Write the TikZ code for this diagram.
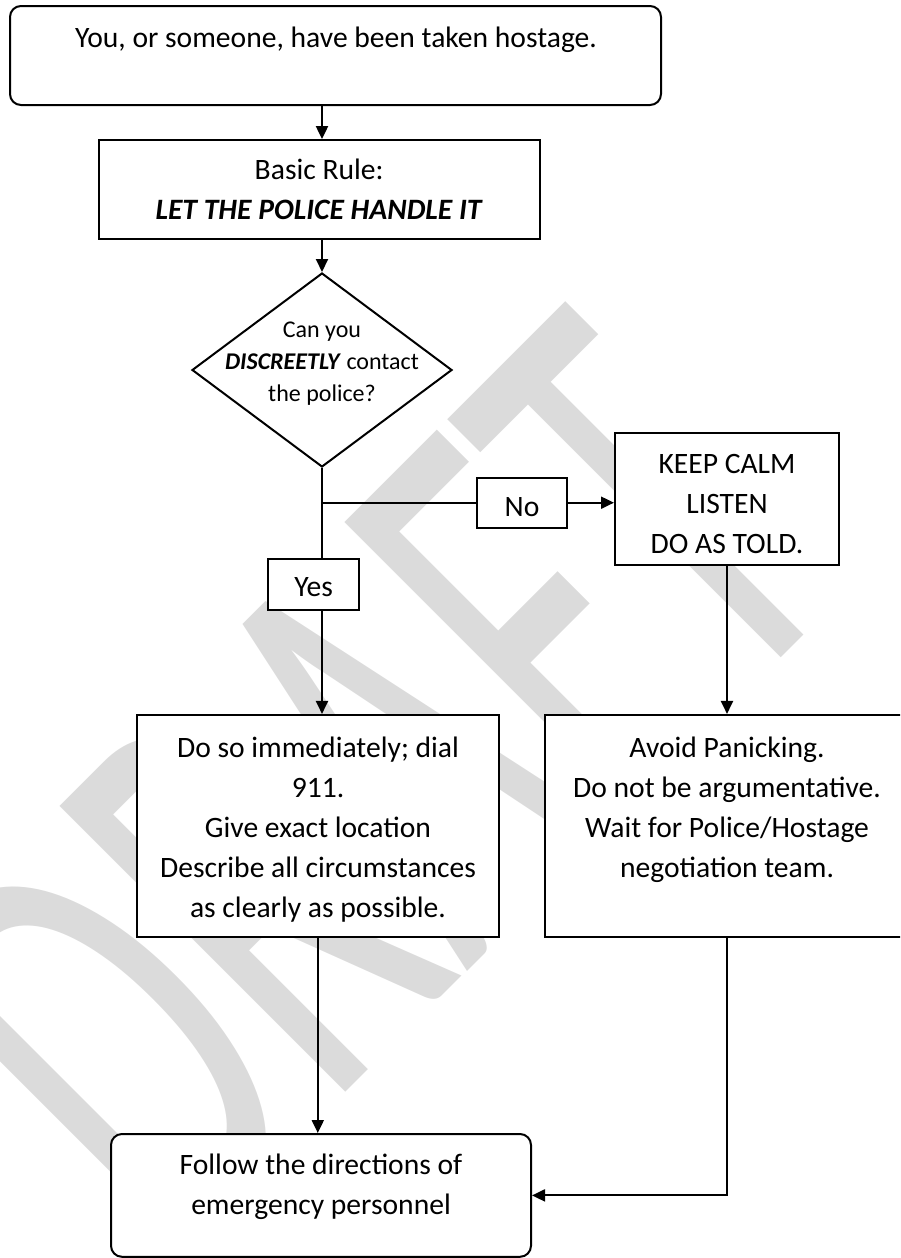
\documentclass[tikz,border=0pt]{standalone}
\usepackage{fontspec}
\setmainfont{Carlito}
\usetikzlibrary{shapes.geometric,arrows.meta,calc}
\begin{document}
\begin{tikzpicture}[x=0.5pt,y=-0.5pt,
  box/.style={draw=black, line width=1pt, fill=white, inner sep=0pt},
  rbox/.style={box, rounded corners=5.5pt},
  txt/.style={inner sep=0pt, align=center, font=\fontsize{14.8}{20}\selectfont},
  smalltxt/.style={inner sep=0pt, align=center, font=\fontsize{12}{16}\selectfont},
  arr/.style={line width=1pt, -{Triangle[length=6.5pt,width=6pt]}},
  ln/.style={line width=1pt},
  wmark/.style={inner sep=0pt, text=black!14, font=\fontsize{180}{180}\selectfont},
]
\useasboundingbox (0,0) rectangle (900,1258);
\begin{scope}
  \clip (0,0) rectangle (900,1258);
  \node[wmark, rotate=45, yscale=1.75] (wm) at (370,783) {DRAFT};
  \node[box, minimum width=182pt, minimum height=111.25pt] (avoid) at (727,826.2) {};
\end{scope}

% boxes
\node[rbox, minimum width=325.5pt, minimum height=49.5pt] (top) at (335.5,55.5) {};
\node[txt] (toptxt) at (336,39.3) {You, or someone, have been taken hostage.};

\node[box, txt, minimum width=220.5pt, minimum height=49.5pt] (basic) at (319.2,189.6)
  {Basic Rule:\\\textbf{\textit{LET THE POLICE HANDLE IT}}};

\node[box, diamond, minimum width=130pt, minimum height=97pt] (dia) at (322,370) {};
\node[smalltxt] (diatxt) at (322,364) {Can you\\\textbf{\textit{DISCREETLY}} contact\\the police?};

\node[box, minimum width=45pt, minimum height=25pt] (no) at (522,502.7) {};
\node[txt] (notxt) at (522,507.5) {No};
\node[box, minimum width=112pt, minimum height=66pt] (keep) at (727,499) {};
\node[txt] (keeptxt) at (727,504) {KEEP CALM\\LISTEN\\DO AS TOLD.};
\node[box, minimum width=45.5pt, minimum height=25.5pt] (yes) at (313.7,584.7) {};
\node[txt] (yestxt) at (313.7,587) {Yes};

\node[box, minimum width=181pt, minimum height=111.25pt] (doso) at (317.8,826.2) {};
\node[txt, anchor=north] (dosotxt) at (318,737)
  {Do so immediately; dial\\911.\\Give exact location\\Describe all circumstances\\as clearly as possible.};
\node[txt, anchor=north] (avoidtxt) at (727,737)
  {Avoid Panicking.\\Do not be argumentative.\\Wait for Police/Hostage\\negotiation team.};

\node[rbox, minimum width=210pt, minimum height=61.4pt] (follow) at (321,1195.4) {};
\node[txt, anchor=north] (followtxt) at (321,1154)
  {Follow the directions of\\emergency personnel};

% connectors
\draw[arr] (top.south -| dia.north) -- (basic.north -| dia.north);
\draw[arr] (basic.south -| dia.north) -- (dia.north);
\draw[ln] (dia.south) -- (dia.south |- yes.north);
\draw[ln] (dia.south |- no.west) -- (no.west);
\draw[arr] (no.east) -- (no.east -| keep.west);
\draw[arr] (dia.south |- yes.south) -- (dia.south |- doso.north);
\draw[arr] (keep.south) -- (avoid.north);
\draw[arr] (doso.south) -- (doso.south |- follow.north);
\draw[arr] (avoid.south) -- (avoid.south |- follow.east) -- (follow.east);
\end{tikzpicture}
\end{document}
